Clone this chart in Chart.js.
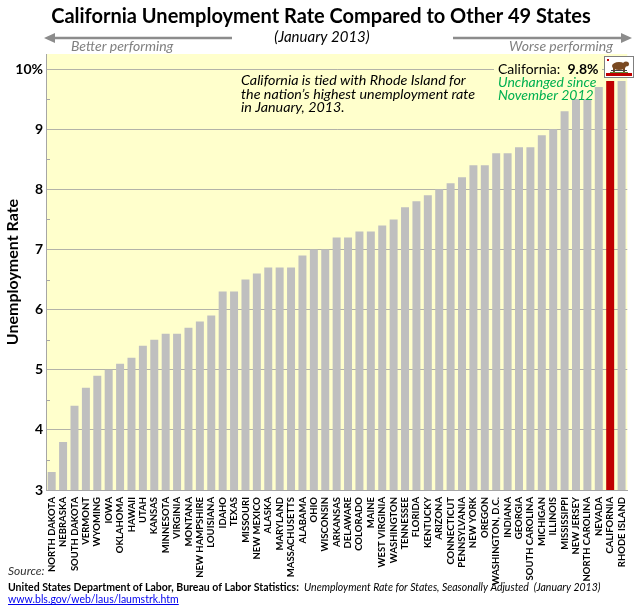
<!DOCTYPE html>
<html>
<head>
<meta charset="utf-8">
<script src="https://cdn.jsdelivr.net/npm/chart.js@4.4.1/dist/chart.umd.min.js"></script>
<style>
  html, body { margin: 0; padding: 0; background: #fff; }
  #wrap { width: 640px; height: 605px; position: relative; }
</style>
</head>
<body>
<div id="wrap"><canvas id="chart"></canvas></div>
<script>
// states ranked from lowest to highest jobless rate, January 2013
const states = ['NORTH DAKOTA', 'NEBRASKA', 'SOUTH DAKOTA', 'VERMONT', 'WYOMING', 'IOWA', 'OKLAHOMA', 'HAWAII',
  'UTAH', 'KANSAS', 'MINNESOTA', 'VIRGINIA', 'MONTANA', 'NEW HAMPSHIRE', 'LOUISIANA', 'IDAHO', 'TEXAS',
  'MISSOURI', 'NEW MEXICO', 'ALASKA', 'MARYLAND', 'MASSACHUSETTS', 'ALABAMA', 'OHIO', 'WISCONSIN',
  'ARKANSAS', 'DELAWARE', 'COLORADO', 'MAINE', 'WEST VIRGINIA', 'WASHINGTON', 'TENNESSEE', 'FLORIDA',
  'KENTUCKY', 'ARIZONA', 'CONNECTICUT', 'PENNSYLVANIA', 'NEW YORK', 'OREGON', 'WASHINGTON, D.C.',
  'INDIANA', 'GEORGIA', 'SOUTH CAROLINA', 'MICHIGAN', 'ILLINOIS', 'MISSISSIPPI', 'NEW JERSEY',
  'NORTH CAROLINA', 'NEVADA', 'CALIFORNIA', 'RHODE ISLAND'];
const rates = [3.3, 3.8, 4.4, 4.7, 4.9, 5.0, 5.1, 5.2,
  5.4, 5.5, 5.6, 5.6, 5.7, 5.8, 5.9, 6.3, 6.3,
  6.5, 6.6, 6.7, 6.7, 6.7, 6.9, 7.0, 7.0,
  7.2, 7.2, 7.3, 7.3, 7.4, 7.5, 7.7, 7.8,
  7.9, 8.0, 8.1, 8.2, 8.4, 8.4, 8.6,
  8.6, 8.7, 8.7, 8.9, 9.0, 9.3, 9.5,
  9.5, 9.7, 9.8, 9.8];
const yTicks = [3, 4, 5, 6, 7, 8, 9, 10];
const minorTicks = [3.5, 4.5, 5.5, 6.5, 7.5, 8.5, 9.5];

const FONT = 'Lato, "Open Sans", sans-serif';
const barColors = states.map(s => s === 'CALIFORNIA' ? '#c00000' : '#bfbfbf');

// -- yellow plot area + half-step tick marks --
const plotBg = {
  id: 'plotBg',
  beforeDraw(chart) {
    const { ctx, chartArea: a } = chart;
    ctx.save();
    ctx.fillStyle = '#ffffcc';
    ctx.fillRect(a.left, a.top, a.right - a.left, a.bottom - a.top);
    ctx.restore();
  },
  afterDraw(chart) {
    const { ctx, chartArea: a } = chart;
    const y = chart.scales.y;
    ctx.save();
    ctx.strokeStyle = '#a6a6a6';
    ctx.lineWidth = 1;
    minorTicks.forEach(v => {
      const py = Math.round(y.getPixelForValue(v)) + 0.5;
      ctx.beginPath();
      ctx.moveTo(a.left, py);
      ctx.lineTo(a.left + 4, py);
      ctx.stroke();
    });
    ctx.restore();
  }
};

function arrow(ctx, x1, x2, y) {
  const dir = x2 > x1 ? 1 : -1;
  ctx.beginPath();
  ctx.moveTo(x1, y);
  ctx.lineTo(x2 - dir * 8, y);
  ctx.stroke();
  ctx.beginPath();
  ctx.moveTo(x2, y);
  ctx.lineTo(x2 - dir * 11, y - 5);
  ctx.lineTo(x2 - dir * 11, y + 5);
  ctx.closePath();
  ctx.fill();
}

function drawFlag(ctx, x, y, w, h) {
  ctx.fillStyle = '#fff';
  ctx.fillRect(x, y, w, h);
  ctx.strokeStyle = '#7f7f7f';
  ctx.lineWidth = 1;
  ctx.strokeRect(x + 0.5, y + 0.5, w - 1, h - 1);
  ctx.fillStyle = '#c00000';
  ctx.fillRect(x + 2, y + h - 5, w - 4, 3);
  ctx.fillRect(x + 3, y + 3, 2, 2);
  // bear
  ctx.fillStyle = '#7a4a22';
  ctx.beginPath();
  ctx.ellipse(x + w / 2, y + h / 2 - 1, 7, 4, 0, 0, Math.PI * 2);
  ctx.fill();
  ctx.beginPath();
  ctx.ellipse(x + w / 2 + 7, y + h / 2 - 3, 3, 2.5, 0, 0, Math.PI * 2);
  ctx.fill();
  ctx.fillRect(x + w / 2 - 6, y + h / 2 + 1, 2, 4);
  ctx.fillRect(x + w / 2 + 4, y + h / 2 + 1, 2, 4);
  ctx.fillStyle = '#5a8a3a';
  ctx.fillRect(x + 6, y + h / 2 + 5, w - 12, 1);
  ctx.fillStyle = '#444';
  ctx.fillRect(x + 7, y + h - 8, w - 14, 1);
}

// -- titles, notes, source lines --
const decor = {
  id: 'decor',
  afterDraw(chart) {
    const ctx = chart.ctx;
    ctx.save();
    ctx.textBaseline = 'middle';

    ctx.fillStyle = '#000';
    ctx.textAlign = 'center';
    ctx.font = `bold 20px ${FONT}`;
    ctx.fillText('California Unemployment Rate Compared to Other 49 States', 321, 17);
    ctx.font = `italic 15px ${FONT}`;
    ctx.fillText('(January 2013)', 322, 37);

    ctx.strokeStyle = '#8c8c8c';
    ctx.fillStyle = '#8c8c8c';
    ctx.lineWidth = 2.5;
    arrow(ctx, 232, 44, 38);
    arrow(ctx, 453, 632, 38);

    ctx.font = `italic 14px ${FONT}`;
    ctx.fillStyle = '#808080';
    ctx.textAlign = 'left';
    ctx.fillText('Better performing', 71, 46);
    ctx.textAlign = 'right';
    ctx.fillText('Worse performing', 613, 46);

    // note about the tie
    ctx.textAlign = 'left';
    ctx.fillStyle = '#000';
    ctx.font = `italic 14.3px ${FONT}`;
    ctx.fillText('California is tied with Rhode Island for', 241, 80);
    ctx.fillText('the nation\u2019s highest unemployment rate', 241, 94);
    ctx.fillText('in January, 2013.', 241, 107);

    // California call-out
    ctx.fillStyle = '#ffffcc';
    ctx.fillRect(494, 60, 108, 16);
    ctx.fillStyle = '#000';
    ctx.font = `14px ${FONT}`;
    const lbl = 'California:  ';
    ctx.fillText(lbl, 498, 69);
    const w = ctx.measureText(lbl).width;
    ctx.font = `bold 14px ${FONT}`;
    ctx.fillText(rates[states.indexOf('CALIFORNIA')] + '%', 498 + w, 69);
    ctx.fillStyle = '#00b050';
    ctx.font = `italic 14px ${FONT}`;
    ctx.fillText('Unchanged since', 498, 82);
    ctx.fillText('November 2012', 498, 95);

    drawFlag(ctx, 604, 56, 30, 22);

    // source
    ctx.fillStyle = '#333';
    ctx.font = `italic 12px ${FONT}`;
    ctx.fillText('Source:', 8, 571);
    ctx.fillStyle = '#000';
    ctx.font = `bold 10.5px ${FONT}`;
    const src = 'United States Department of Labor, Bureau of Labor Statistics:  ';
    ctx.fillText(src, 8, 588);
    const sw = ctx.measureText(src).width;
    ctx.font = `italic 10.5px ${FONT}`;
    ctx.fillText('Unemployment Rate for States, Seasonally Adjusted  (January 2013)', 8 + sw, 588);
    ctx.fillStyle = '#0000ee';
    ctx.strokeStyle = '#0000ee';
    ctx.font = `10.5px ${FONT}`;
    const url = 'www.bls.gov/web/laus/laumstrk.htm';
    ctx.fillText(url, 8, 600);
    const uw = ctx.measureText(url).width;
    ctx.lineWidth = 1;
    ctx.beginPath();
    ctx.moveTo(8, 604.5);
    ctx.lineTo(8 + uw, 604.5);
    ctx.stroke();
    ctx.restore();
  }
};

new Chart(document.getElementById('chart'), {
  type: 'bar',
  data: {
    labels: states,
    datasets: [{
      data: rates,
      backgroundColor: barColors,
      borderWidth: 0,
      barPercentage: 0.7,
      categoryPercentage: 1
    }]
  },
  options: {
    responsive: true,
    maintainAspectRatio: false,
    animation: false,
    devicePixelRatio: 1,
    layout: { padding: { top: 54, right: 2, left: 0, bottom: 0 } },
    plugins: { legend: { display: false }, tooltip: { enabled: false } },
    scales: {
      x: {
        grid: { display: false, drawTicks: false },
        border: { color: '#a6a6a6' },
        ticks: {
          autoSkip: false, maxRotation: 90, minRotation: 90, padding: 7,
          color: '#000', font: { family: FONT, size: 9.5, weight: 'bold' }
        },
        afterFit: s => { s.height = 115; }
      },
      y: {
        min: 3,
        max: 10.25,
        afterBuildTicks: s => { s.ticks = yTicks.map(v => ({ value: v })); },
        grid: { color: '#b3b3a8', drawTicks: false },
        border: { color: '#a6a6a6' },
        ticks: {
          padding: 3, color: '#000',
          font: { family: FONT, size: 14, weight: 'bold' },
          callback: v => v === 10 ? '10%' : v
        },
        title: {
          display: true, text: 'Unemployment Rate', color: '#000',
          font: { family: FONT, size: 16, weight: 'bold' }, padding: { top: 3, bottom: 0 }
        },
        afterFit: s => { s.width = 46; }
      }
    }
  },
  plugins: [plotBg, decor]
});
</script>
</body>
</html>
